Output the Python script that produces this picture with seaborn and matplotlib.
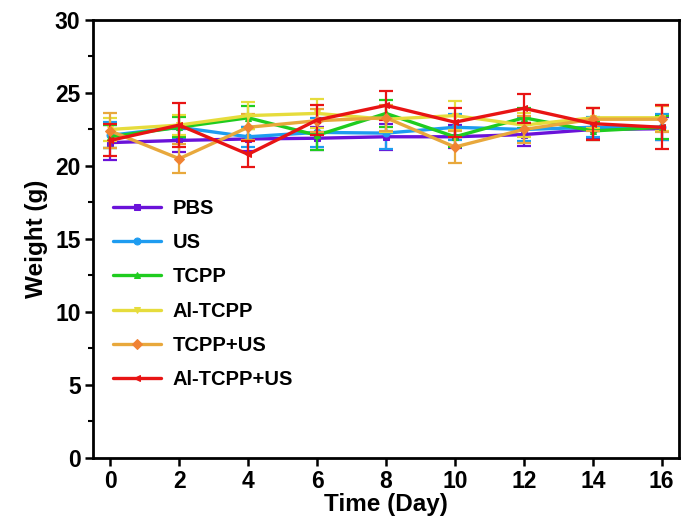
import matplotlib
matplotlib.use("Agg")
import matplotlib.pyplot as plt
import seaborn as sns
import pandas as pd
from matplotlib.ticker import MultipleLocator

days = [0, 2, 4, 6, 8, 10, 12, 14, 16]
groups = ["PBS", "US", "TCPP", "Al-TCPP", "TCPP+US", "Al-TCPP+US"]

pbs = [21.6, 21.75, 21.85, 21.9, 22.0, 22.0, 22.15, 22.5, 22.55]
us = [22.1, 22.65, 22.0, 22.3, 22.25, 22.65, 22.5, 22.65, 22.65]
tcpp = [22.0, 22.65, 23.3, 22.1, 23.6, 22.0, 23.3, 22.4, 22.65]
al_tcpp = [22.5, 22.8, 23.45, 23.6, 23.2, 23.45, 22.8, 23.3, 23.3]
tcpp_us = [22.4, 20.5, 22.65, 23.1, 23.3, 21.3, 22.5, 23.2, 23.2]
al_tcpp_us = [21.75, 22.8, 20.8, 23.15, 24.15, 23.0, 23.95, 22.9, 22.65]

pbs_err = [1.2, 0.8, 0.8, 0.8, 0.9, 0.8, 0.8, 0.6, 0.8]
us_err = [0.9, 0.8, 0.7, 1.0, 1.1, 0.9, 0.8, 0.7, 0.9]
tcpp_err = [0.8, 0.7, 0.8, 1.0, 0.9, 0.7, 0.7, 0.6, 0.8]
al_tcpp_err = [0.8, 0.7, 0.9, 1.0, 0.9, 1.0, 0.8, 0.7, 0.9]
tcpp_us_err = [1.2, 1.0, 0.9, 0.8, 0.9, 1.1, 0.9, 0.8, 0.9]
al_tcpp_us_err = [1.1, 1.5, 0.9, 1.0, 1.0, 1.0, 1.0, 1.1, 1.5]

values = [pbs, us, tcpp, al_tcpp, tcpp_us, al_tcpp_us]
errors = [pbs_err, us_err, tcpp_err, al_tcpp_err, tcpp_us_err, al_tcpp_us_err]
colors = ["#6A12D9", "#1E9CF0", "#1FCC1F", "#E6DC3C", "#E8A83C", "#E81414"]
marker_colors = ["#6A12D9", "#1E9CF0", "#1FCC1F", "#E6DC3C", "#F08232", "#E81414"]
markers = ["s", "o", "^", "v", "D", "<"]

rows = []
for g, vals in zip(groups, values):
    for d, v in zip(days, vals):
        rows.append({"Day": d, "Weight": v, "Group": g})
df = pd.DataFrame(rows)

sns.set_theme(style="ticks")
plt.rcParams["font.family"] = ["Liberation Sans", "DejaVu Sans"]
plt.rcParams["font.weight"] = "bold"
for k in ["text.color", "axes.labelcolor", "xtick.color", "ytick.color", "axes.edgecolor"]:
    plt.rcParams[k] = "black"

fig = plt.figure(figsize=(6.81, 5.28), dpi=100)
ax = fig.add_axes([0.1366, 0.1326, 0.8604, 0.8296])

for i, (g, errs) in enumerate(zip(groups, errors)):
    ax.errorbar(days, values[i], yerr=errs, fmt="none", ecolor=colors[i],
                elinewidth=1.6, capsize=5, capthick=1.6, zorder=2 + i)

for i, g in enumerate(groups):
    sub = df[df["Group"] == g]
    sns.lineplot(data=sub, x="Day", y="Weight", ax=ax, color=colors[i],
                 marker=markers[i], markersize=5, markerfacecolor=marker_colors[i],
                 markeredgecolor=marker_colors[i], linewidth=2.4, label=g,
                 zorder=3 + i)

ax.set_xlim(-0.5, 16.5)
ax.set_ylim(0, 30)
ax.set_xticks(days)
ax.yaxis.set_major_locator(MultipleLocator(5))
ax.yaxis.set_minor_locator(MultipleLocator(2.5))
ax.tick_params(axis="both", which="major", direction="out", length=6, width=1.8,
               labelsize=16.5, pad=3)
ax.tick_params(axis="y", which="minor", direction="out", length=3.5, width=1.5)
for lab in ax.get_xticklabels() + ax.get_yticklabels():
    lab.set_fontweight("bold")
for s in ax.spines.values():
    s.set_linewidth(2)
    s.set_color("black")

ax.set_xlabel("Time (Day)", fontsize=17.5, fontweight="bold", labelpad=0)
ax.set_ylabel("Weight (g)", fontsize=17.5, fontweight="bold", labelpad=5)

leg = ax.legend(loc="upper left", bbox_to_anchor=(0.0, 0.638), frameon=False,
                prop={"size": 14.5, "weight": "bold"}, labelspacing=0.76,
                handlelength=2.4, handletextpad=0.55, borderaxespad=0.6)

fig.savefig("out.png", dpi=100)
